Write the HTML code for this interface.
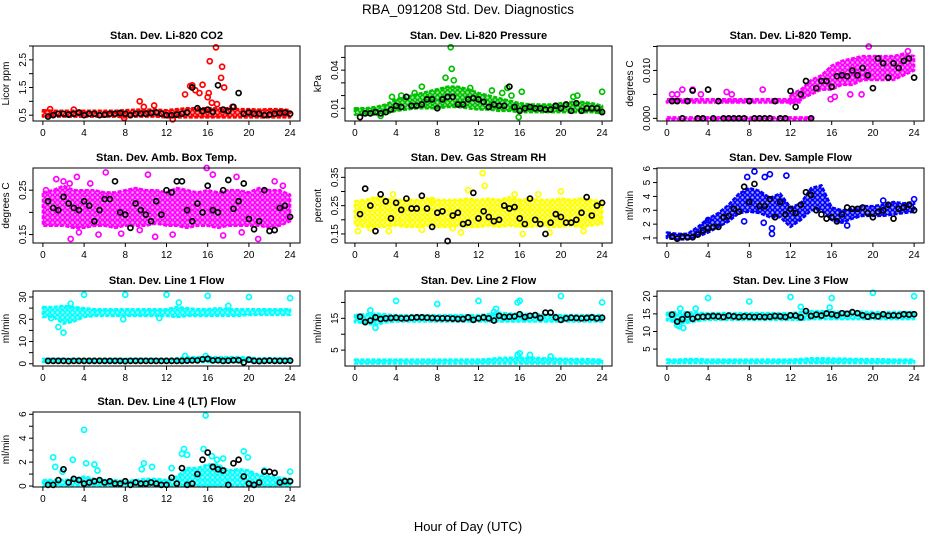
<!DOCTYPE html>
<html><head><meta charset="utf-8"><style>
html,body{margin:0;padding:0;background:#fff;}
svg{display:block;font-family:"Liberation Sans",Arial,sans-serif;}
</style></head><body>
<svg id="chart" width="936" height="540" viewBox="0 0 936 540" xmlns="http://www.w3.org/2000/svg">
<defs id="defs"></defs>
<text x="468" y="14" text-anchor="middle" font-size="13.5">RBA_091208  Std. Dev. Diagnostics</text>
<text x="468" y="531" text-anchor="middle" font-size="13">Hour of Day (UTC)</text>
</svg>
<script>
const xTicks = [0,4,8,12,16,20,24];
const blackX = [0.5,1,1.5,2,2.5,3,3.5,4,4.5,5,5.5,6,6.5,7,7.5,8,8.5,9,9.5,10,10.5,11,11.5,12,12.5,13,13.5,14,14.5,15,15.5,16,16.5,17,17.5,18,18.5,19,19.5,20,20.5,21,21.5,22,22.5,23,23.5,24];
const hours = [0,1,2,3,4,5,6,7,8,9,10,11,12,13,14,15,16,17,18,19,20,21,22,23,24];

// Panel 1 CO2
const co2Lo = [0.45,0.45,0.45,0.45,0.45,0.45,0.45,0.45,0.42,0.45,0.45,0.45,0.42,0.42,0.42,0.42,0.42,0.42,0.42,0.42,0.42,0.42,0.42,0.42,0.42];
const co2Hi = [0.68,0.66,0.66,0.66,0.66,0.66,0.66,0.66,0.68,0.7,0.7,0.7,0.68,0.72,0.75,0.75,0.75,0.75,0.75,0.72,0.72,0.7,0.72,0.72,0.68];
const co2Out = [[0.7,0.72],[9.4,1.0],[9.8,0.8],[10.8,0.85],[12.6,0.35],[13.8,1.25],[14.3,1.55],[14.5,1.58],[14.8,1.4],[15.2,1.3],[15.5,1.6],[16,1.15],[16.1,1.3],[16.2,2.45],[16.4,0.95],[16.8,2.95],[17.3,1.85],[17.4,2.25],[17.6,1.5],[16.9,0.9],[18.4,0.8],[7.9,0.4],[3,0.7]];
const co2Black = [0.45,0.5,0.55,0.55,0.52,0.55,0.6,0.5,0.55,0.55,0.5,0.52,0.55,0.55,0.58,0.55,0.5,0.55,0.55,0.55,0.58,0.6,0.55,0.5,0.5,0.52,0.55,0.6,1.5,0.75,0.65,0.7,0.62,1.58,0.7,0.65,0.8,1.3,0.55,0.6,0.55,0.55,0.5,0.52,0.55,0.58,0.6,0.55];
// Panel 2 Pressure
const prLo = [0.005,0.005,0.005,0.006,0.008,0.009,0.010,0.010,0.010,0.011,0.011,0.010,0.009,0.009,0.008,0.008,0.007,0.007,0.007,0.007,0.007,0.007,0.007,0.007,0.006];
const prHi = [0.010,0.010,0.011,0.013,0.017,0.019,0.021,0.023,0.025,0.027,0.027,0.025,0.022,0.020,0.018,0.016,0.014,0.013,0.013,0.013,0.014,0.015,0.015,0.014,0.012];
const prOut = [[9.3,0.058],[9.4,0.041],[8.8,0.034],[9.6,0.032],[6.5,0.027],[3.6,0.019],[4.5,0.02],[5.8,0.022],[14.3,0.022],[14.8,0.026],[16.2,0.023],[15.2,0.02],[21.2,0.019],[21.6,0.02],[24,0.023],[15.9,0.003],[2.5,0.004],[11.2,0.026],[13.3,0.024]];
const prBlack = [0.003,0.006,0.006,0.007,0.006,0.007,0.009,0.012,0.011,0.019,0.012,0.012,0.013,0.017,0.017,0.01,0.017,0.019,0.019,0.013,0.013,0.017,0.018,0.017,0.015,0.011,0.013,0.012,0.012,0.027,0.011,0.008,0.01,0.011,0.01,0.01,0.009,0.009,0.012,0.01,0.013,0.008,0.014,0.008,0.01,0.01,0.01,0.007];
// Panel 3 Li-820 Temp
const tpLineX = [0,14.2];
const tpLine0Lo = [-0.0002,-0.0002];
const tpLine0Hi = [0.0002,0.0002];
const tpLine1X = [0,13];
const tpLine1Lo = [0.0033,0.0033];
const tpLine1Hi = [0.0040,0.0040];
const tpCloudX = [12,13,14,15,16,17,18,19,20,21,22,23,24];
const tpCloudLo = [0.003,0.004,0.005,0.006,0.006,0.007,0.007,0.008,0.008,0.008,0.008,0.009,0.010];
const tpCloudHi = [0.005,0.006,0.008,0.009,0.011,0.012,0.0125,0.013,0.013,0.013,0.013,0.0135,0.013];
const tpOut = [[0.5,0.005],[1,0.005],[1.5,0.006],[2.5,0.006],[3.3,0.005],[5.8,0.0055],[6.3,0.005],[9.3,0.006],[19.6,0.015],[23.4,0.014],[17.8,0.005],[18.9,0.005],[15.9,0.004],[16.3,0.0045]];
const tpBlack = [0.0036,0.0036,0,0.0036,0.0058,0,0,0.006,0,0.0036,0,0,0,0,0,0.0036,0,0,0,0,0.0036,0,0,0.0057,0.0024,0.005,0.0078,0,0.0063,0.0078,0.0078,0.0066,0.0088,0.009,0.0088,0.010,0.009,0.0105,0.009,0.0063,0.0125,0.0115,0.0085,0.0115,0.0105,0.012,0.0125,0.0085];
// Panel 4 Amb box temp
const abLo = [0.17,0.17,0.17,0.165,0.165,0.17,0.17,0.165,0.17,0.17,0.17,0.175,0.17,0.17,0.165,0.17,0.17,0.165,0.17,0.17,0.17,0.17,0.165,0.17,0.18];
const abHi = [0.245,0.25,0.26,0.25,0.25,0.25,0.245,0.245,0.25,0.255,0.25,0.25,0.245,0.255,0.25,0.245,0.25,0.245,0.25,0.25,0.245,0.255,0.25,0.25,0.24];
const abOut = [[2,0.27],[2.6,0.265],[3.3,0.28],[4.6,0.265],[6.1,0.29],[10.2,0.285],[1.3,0.275],[15.9,0.30],[16.5,0.285],[22.5,0.27],[23.3,0.26],[2.7,0.14],[10.9,0.145],[12.6,0.15],[17.5,0.148],[20.9,0.14],[3.5,0.155],[5.4,0.15],[7.6,0.152],[0.3,0.25],[9.4,0.16],[19.3,0.155],[18.8,0.28]];
const abBlack = [0.225,0.21,0.205,0.235,0.22,0.21,0.205,0.225,0.215,0.18,0.205,0.23,0.23,0.27,0.2,0.195,0.165,0.22,0.205,0.195,0.18,0.225,0.195,0.25,0.245,0.27,0.27,0.205,0.18,0.22,0.2,0.26,0.205,0.2,0.25,0.273,0.208,0.225,0.265,0.185,0.162,0.18,0.25,0.158,0.16,0.21,0.215,0.19];
// Panel 5 Gas stream RH
const rhLo = [0.18,0.175,0.175,0.175,0.18,0.175,0.175,0.18,0.175,0.175,0.18,0.175,0.175,0.18,0.175,0.18,0.175,0.175,0.18,0.175,0.175,0.18,0.175,0.18,0.185];
const rhHi = [0.265,0.27,0.28,0.275,0.27,0.27,0.27,0.275,0.27,0.27,0.27,0.275,0.27,0.275,0.27,0.28,0.27,0.275,0.27,0.27,0.275,0.27,0.275,0.27,0.265];
const rhOut = [[0.3,0.16],[1.5,0.17],[3.3,0.16],[3.7,0.29],[6.5,0.165],[9.5,0.17],[10.3,0.155],[12.4,0.365],[12.6,0.32],[11,0.305],[7.5,0.27],[15.5,0.29],[20,0.3],[18.9,0.155],[22.2,0.16],[16.3,0.15],[17.8,0.29]];
const rhBlack = [0.22,0.31,0.25,0.16,0.29,0.265,0.205,0.26,0.235,0.275,0.24,0.24,0.285,0.24,0.175,0.225,0.23,0.125,0.215,0.225,0.185,0.19,0.295,0.205,0.23,0.21,0.195,0.2,0.25,0.24,0.245,0.205,0.185,0.275,0.2,0.185,0.15,0.19,0.22,0.21,0.19,0.19,0.2,0.225,0.28,0.215,0.25,0.26];
// Panel 6 Sample flow
const sfLo = [1.0,0.9,0.9,1.1,1.4,1.8,2.2,2.8,2.9,2.8,2.5,2.5,1.8,2.3,3.0,3.0,2.3,2.1,2.4,2.6,2.6,2.6,2.7,2.8,2.9];
const sfHi = [1.4,1.3,1.3,1.8,2.4,2.8,3.4,4.2,4.6,4.4,3.9,4.2,3.2,3.5,4.6,4.8,3.2,3.0,3.1,3.3,3.3,3.4,3.6,3.5,3.6];
const sfOut = [[7.8,5.4],[8.5,5.8],[9.5,5.4],[10,5.6],[11.6,5.5],[9.4,2.1],[10.2,1.3],[10.2,1.7],[7.5,2.2],[4,2.3],[17.5,1.9],[21,3.7],[24,3.8]];
const sfBlack = [1.1,0.95,1.1,1.05,1.05,1.25,1.55,1.7,1.8,1.8,2.5,2.6,3.1,2.9,4.7,3.6,4.9,3.3,3.3,3.8,2.5,3.6,2.7,3.1,2.8,3.4,4.3,4.1,3.0,2.7,2.4,2.5,2.2,2.7,3.2,3.1,3.1,3.2,2.8,2.5,2.9,3.0,3.4,2.4,3.1,3.2,3.4,3.0];
// Panel 7 Line 1 flow
const l1UpLo = [21,21,18,19,21,21.5,21.5,21.5,21.5,21.5,21.5,21.5,21.5,21,21.5,21.5,21.5,21.5,21.5,21.5,22,22,22,22,22];
const l1UpHi = [25.5,25.5,26,25.5,25,24.5,24.5,24.5,24.5,24.5,24.5,24.5,24.5,25.5,25,24.5,24.5,25,24.5,24.5,24.5,24.5,24.5,24.5,24.5];
const l1LowLo = [0.8,0.8,0.8,0.8,0.8,0.8,0.8,0.8,0.8,0.8,0.8,0.8,0.8,0.8,0.8,0.8,0.8,0.8,0.8,0.8,0.8,0.8,0.8,0.8,0.8];
const l1LowHi = [2.2,2.2,2.2,2.2,2.2,2.2,2.2,2.2,2.2,2.2,2.2,2.2,2.2,2.4,3,3,3,3,3,3,2.8,2.4,2.4,2.4,2.2];
const l1Out = [[4,31],[8,31],[12,31],[16,30.5],[20,30],[24,29.5],[1.5,16.5],[2,14],[0.8,20.5],[7.8,20],[11.3,20.5],[13.2,27.5],[13.8,3.5],[15.8,3.5],[2.7,27],[18,26]];
const l1Black = [1.3,1.3,1.3,1.3,1.2,1.3,1.3,1.3,1.3,1.3,1.3,1.3,1.3,1.3,1.3,1.2,1.3,1.3,1.3,1.3,1.3,1.3,1.3,1.3,1.3,1.3,1.3,1.4,1.5,1.5,2.0,2.2,1.5,1.6,1.3,1.4,1.6,1.6,0.6,1.8,1.3,1.2,1.3,1.4,1.3,1.3,1.3,1.4];
// Panel 8 Line 2 flow
const l2UpLo = [13.8,13.5,12.8,13.8,14,14,14,14,14,14,14,14,14,14,14,14,14,14,14,14,14,14,14,14,14];
const l2UpHi = [16,16.3,16.5,16.2,16,16,16,16,16,16,16,16,16,16.3,16.8,16.5,16.5,16.3,16.2,16.2,16,16,16,16,16];
const l2LowLo = [0.8,0.8,0.8,0.8,0.8,0.8,0.8,0.8,0.8,0.8,0.8,0.8,0.8,0.8,0.8,0.8,0.8,0.8,0.8,0.8,0.8,0.8,0.8,0.8,0.8];
const l2LowHi = [2,2,2,2,2,2,2,2,2,2,2,2,2,2.2,2.5,2.6,2.6,2.6,2.5,2.4,2.3,2.2,2.2,2.1,2];
const l2Out = [[4,20.5],[8,19.5],[12,20.5],[15.8,20],[16,20.5],[20,22],[24,20],[1.5,17.5],[2,12],[16,4],[13.5,17],[13.7,18],[15.8,3.5],[17,3.5],[19,3]];
const l2Black = [15.5,13.8,14.3,15.3,14.8,15,15.1,15.2,15,15,15.2,15.3,15.3,15.2,15.1,15,15,15,14.9,14.8,14.8,15.3,14.5,15,15.3,15,14.3,15.8,15.4,15.5,15.6,16.3,15.4,15.8,16,15.1,16.8,16.8,15.3,14.5,15,15.2,15.1,15,15.1,15.3,15,15.2];
// Panel 9 Line 3 flow
const l3UpLo = [13.2,12.5,12.5,13,13.3,13.3,13.3,13.3,13.3,13.3,13.3,13.3,13.3,13.3,13.5,13.5,13.5,13.5,13.5,13.5,13.5,13.5,13.5,13.5,13.5];
const l3UpHi = [15.3,15.5,15.5,15.3,15.2,15.2,15.2,15.2,15.2,15.2,15.2,15.2,15.2,15.5,15.8,15.8,15.6,15.6,15.6,15.6,15.5,15.5,15.5,15.5,15.5];
const l3LowLo = [1,1,1,1,1,1,1,1,1,1,1,1,1,1,1,1,1,1,1,1,1,1,1,1,1];
const l3LowHi = [2,2,2.2,2.2,2,2,2,2,2,2,2,2,2,2.2,2.4,2.4,2.3,2.3,2.2,2.2,2.1,2.1,2,2,2];
const l3Out = [[4,19.5],[8,18.5],[12,19.8],[16,19.5],[20,21],[24,20],[1.2,11.5],[1.6,11],[1.3,16.5],[2.8,16.5],[15.8,16.8],[13,17],[1,11.8]];
const l3Black = [14.8,12.8,13.5,14.8,13.6,14.1,14.2,14.3,14.4,14.3,14.1,14.5,14.3,14.1,14.3,14.2,14.1,14.2,14.1,14.2,14.4,14.3,14.1,14.6,14.5,14,15.8,14.4,14.8,14.5,15.1,14.9,14.6,15.2,15,15.5,15.2,14.6,14.2,14.5,14.3,14.9,14.5,14.6,14.5,14.9,14.8,14.9];
// Panel 10 Line 4 (LT) flow
const l4Lo = [0,0,0,0,0,0,0,0,0,0,0,0,0,0,0,0,0,0,0,0,0,0,0,0,0];
const l4Hi = [0.5,0.5,0.5,0.6,0.8,0.6,0.5,0.5,0.4,0.5,0.6,0.6,0.5,0.8,1.5,1.5,1.8,1.8,1.3,1.4,1.3,0.9,0.8,0.7,0.6];
const l4Out = [[1,2.4],[1.2,1.6],[2.9,2.2],[4,4.7],[4.2,1.9],[5,1.8],[5.3,1.3],[1.9,1.2],[9.8,1.9],[9.6,1.4],[10.6,1.6],[12.5,1.5],[13.5,2.7],[13.7,3.1],[14,2.6],[15.8,5.9],[15.6,3.1],[16.4,2.5],[16.9,2.2],[19.5,2.9],[19.9,2.4],[21.5,1.3],[24,1.2],[17.5,2.3]];
const l4Black = [0.1,0.1,0.5,1.4,0.3,0.6,0.5,0.2,0.3,0.4,0.5,0.3,0.4,0.2,0.2,0.4,0.1,0.3,0.2,0.2,0.3,0.2,0.1,0.1,0.7,0.2,1.5,0.1,0.2,1.0,2.2,2.8,1.6,1.4,1.3,0.1,1.9,2.2,0.8,0.2,0.1,0.3,1.2,1.2,1.1,0.3,0.4,0.4];

const panels = [
 {name:'co2',title:'Stan. Dev. Li-820 CO2',yl:'Licor ppm',col:0,row:0,c:'#ff0000',ylim:[0.29,3.0],ticks:[0.5,1,1.5,2,2.5,3],labels:['0.5','','1.5','','2.5',''],bands:[[hours,co2Lo,co2Hi]],out:co2Out,black:co2Black},
 {name:'pressure',title:'Stan. Dev. Li-820 Pressure',yl:'kPa',col:1,row:0,c:'#00c000',ylim:[0,0.059],ticks:[0.01,0.02,0.03,0.04,0.05],labels:['0.01','','','0.04',''],bands:[[hours,prLo,prHi]],out:prOut,black:prBlack},
 {name:'licor-temp',title:'Stan. Dev. Li-820 Temp.',yl:'degrees C',col:2,row:0,c:'#ff00ff',ylim:[-0.00055,0.0151],ticks:[0,0.005,0.01,0.015],labels:['0.000','','0.010',''],bands:[[tpLineX,tpLine0Lo,tpLine0Hi],[tpLine1X,tpLine1Lo,tpLine1Hi],[tpCloudX,tpCloudLo,tpCloudHi]],out:tpOut,black:tpBlack},
 {name:'amb-box-temp',title:'Stan. Dev. Amb. Box Temp.',yl:'degrees C',col:0,row:1,c:'#ff00ff',ylim:[0.131,0.30],ticks:[0.15,0.2,0.25],labels:['0.15','','0.25'],bands:[[hours,abLo,abHi]],out:abOut,black:abBlack},
 {name:'gas-rh',title:'Stan. Dev. Gas Stream RH',yl:'percent',col:1,row:1,c:'#ffff00',ylim:[0.118,0.383],ticks:[0.15,0.2,0.25,0.3,0.35],labels:['0.15','','0.25','','0.35'],bands:[[hours,rhLo,rhHi]],out:rhOut,black:rhBlack},
 {name:'sample-flow',title:'Stan. Dev. Sample Flow',yl:'ml/min',col:2,row:1,c:'#0000ff',ylim:[0.64,6.05],ticks:[1,2,3,4,5,6],labels:['1','2','3','4','5','6'],bands:[[hours,sfLo,sfHi]],out:sfOut,black:sfBlack},
 {name:'line1-flow',title:'Stan. Dev. Line 1 Flow',yl:'ml/min',col:0,row:2,c:'#00ffff',ylim:[-1,32.7],ticks:[0,5,10,15,20,25,30],labels:['0','','10','','20','','30'],bands:[[hours,l1UpLo,l1UpHi],[hours,l1LowLo,l1LowHi]],out:l1Out,black:l1Black},
 {name:'line2-flow',title:'Stan. Dev. Line 2 Flow',yl:'ml/min',col:1,row:2,c:'#00ffff',ylim:[0,23.6],ticks:[5,10,15,20],labels:['5','','15',''],bands:[[hours,l2UpLo,l2UpHi],[hours,l2LowLo,l2LowHi]],out:l2Out,black:l2Black},
 {name:'line3-flow',title:'Stan. Dev. Line 3 Flow',yl:'ml/min',col:2,row:2,c:'#00ffff',ylim:[0.2,21.5],ticks:[5,10,15,20],labels:['5','10','15','20'],bands:[[hours,l3UpLo,l3UpHi],[hours,l3LowLo,l3LowHi]],out:l3Out,black:l3Black},
 {name:'line4-flow',title:'Stan. Dev. Line 4 (LT) Flow',yl:'ml/min',col:0,row:3,c:'#00ffff',ylim:[-0.08,6.19],ticks:[0,1,2,3,4,5,6],labels:['0','','2','','4','','6'],bands:[[hours,l4Lo,l4Hi]],out:l4Out,black:l4Black}
];

const NS='http://www.w3.org/2000/svg';
const svg=document.getElementById('chart');
const defs=document.getElementById('defs');
const colLeft=[33,345,657], rowTop=[46,168,291,412], W=267, H=75;
function mk(tag,attrs,parent){const e=document.createElementNS(NS,tag);for(const k in attrs)e.setAttribute(k,attrs[k]);(parent||svg).appendChild(e);return e;}

// ring-texture patterns for dense point clouds
const patIds={};
function pattern(color){
  if(patIds[color])return patIds[color];
  const id='pat'+Object.keys(patIds).length;
  const p=mk('pattern',{id:id,patternUnits:'userSpaceOnUse',width:5,height:5},defs);
  mk('rect',{x:0,y:0,width:5,height:5,fill:color,'fill-opacity':'0.35'},p);
  mk('circle',{cx:2.5,cy:2.5,r:2,fill:'none',stroke:color,'stroke-width':'1.5'},p);
  patIds[color]=id;return id;
}

panels.forEach(p=>{
  const L=colLeft[p.col], T=rowTop[p.row];
  const g=mk('g',{});
  
  
  const xs=v=>L+(v+0.96)/25.92*W;
  const ys=v=>T+H-(v-p.ylim[0])/(p.ylim[1]-p.ylim[0])*H;
  const t=mk('text',{x:L+W/2,y:T-7,'text-anchor':'middle','font-size':'11','font-weight':'bold'},g);
  t.textContent=p.title;
  
  
  const pid=pattern(p.c);
  p.bands.forEach(b=>{
    const [bx,lo,hi]=b;
    let pts=bx.map((x,i)=>xs(x)+','+ys(hi[i]));
    for(let i=bx.length-1;i>=0;i--)pts.push(xs(bx[i])+','+ys(lo[i]));
    const poly=mk('polygon',{points:pts.join(' '),fill:'url(#'+pid+')',stroke:p.c,'stroke-width':'2.5','stroke-dasharray':'4 1.5','stroke-linejoin':'round'},g);
    
    
  });
  p.out.forEach(o=>{
    const c=mk('circle',{cx:xs(o[0]),cy:ys(o[1]),r:2.5,fill:'none',stroke:p.c,'stroke-width':'1.7'},g);
    
    
  });
  p.black.forEach((v,i)=>{
    const c=mk('circle',{cx:xs(blackX[i]),cy:ys(v),r:2.5,fill:'none',stroke:'#000','stroke-width':'1.7'},g);
    
    
  });
  const box=mk('rect',{x:L,y:T,width:W,height:H,fill:'none',stroke:'#000','stroke-width':'1'},g);
  
  
  mk('line',{x1:xs(0),x2:xs(24),y1:T+H,y2:T+H,stroke:'#000'},g);
  xTicks.forEach(v=>{
    mk('line',{x1:xs(v),x2:xs(v),y1:T+H,y2:T+H+4,stroke:'#000'},g);
    const tl=mk('text',{x:xs(v),y:T+H+15,'text-anchor':'middle','font-size':'10'},g);
    tl.textContent=v;
    
    
  });
  p.ticks.forEach((v,i)=>{
    const y=ys(v);
    mk('line',{x1:L,x2:L-4,y1:y,y2:y,stroke:'#000'},g);
    if(p.labels[i]){
      const tl=mk('text',{x:L-7,y:y,'text-anchor':'middle','font-size':'10',transform:`rotate(-90 ${L-7} ${y})`},g);
      tl.textContent=p.labels[i];
      
      
    }
  });
  const yt=mk('text',{x:L-24,y:T+H/2,'text-anchor':'middle','font-size':'10',transform:`rotate(-90 ${L-24} ${T+H/2})`},g);
  yt.textContent=p.yl;
  
  
});
</script>
</body></html>
